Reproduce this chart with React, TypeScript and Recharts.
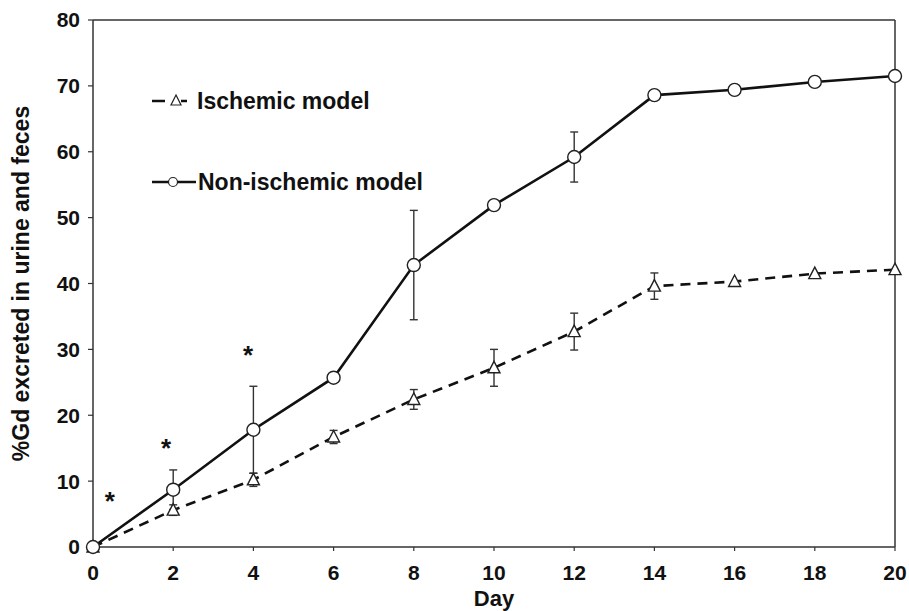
import React from 'react';
import {
  ComposedChart, Line, XAxis, YAxis, ErrorBar, ReferenceLine, ReferenceDot, Legend,
} from 'recharts';

const days = [0, 2, 4, 6, 8, 10, 12, 14, 16, 18, 20];
const nonIschemic = [0, 8.7, 17.8, 25.7, 42.8, 51.9, 59.2, 68.6, 69.4, 70.6, 71.5];
const nonIschemicErr = [0, 3.0, 6.6, 0, 8.3, 0, 3.8, 0, 0, 0, 0];
const ischemic = [0, 5.6, 10.2, 16.7, 22.4, 27.2, 32.7, 39.6, 40.3, 41.5, 42.1];
const ischemicErr = [0, 0.8, 1.0, 1.0, 1.5, 2.8, 2.8, 2.0, 0, 0, 0];

const xTicks = [0, 2, 4, 6, 8, 10, 12, 14, 16, 18, 20];
const yTicks = [0, 10, 20, 30, 40, 50, 60, 70, 80];

const asteriskDays = [0.42, 1.82, 3.87];
const asteriskValues = [7.9, 15.9, 30.0];

const seriesNames = ['Ischemic model', 'Non-ischemic model'];

const data = days.map((d, i) => ({
  day: d,
  non: nonIschemic[i],
  nonErr: nonIschemicErr[i],
  isch: ischemic[i],
  ischErr: ischemicErr[i],
}));

const FONT = '"Liberation Sans", Arial, sans-serif';
const INK = '#111';

const CircleDot = (props: any) => {
  const { cx, cy, index } = props;
  if (cx == null || cy == null) return null;
  return <circle key={`c${index}`} cx={cx} cy={cy} r={6.5} fill="#fff" stroke="#222" strokeWidth={1.4} />;
};

const TriangleDot = (props: any) => {
  const { cx, cy, index } = props;
  if (cx == null || cy == null) return null;
  return (
    <path
      key={`t${index}`}
      d={`M${cx},${cy - 6.5} L${cx + 6},${cy + 5} L${cx - 6},${cy + 5} Z`}
      fill="#fff"
      stroke="#222"
      strokeWidth={1.4}
    />
  );
};

const AsteriskShape = (props: any) => {
  const { cx, cy } = props;
  return (
    <text x={cx} y={cy + 15} textAnchor="middle" fontFamily={FONT} fontWeight={700} fontSize={26} fill="#111">
      *
    </text>
  );
};

const LegendContent = () => (
  <div style={{ fontFamily: FONT, fontWeight: 700, fontSize: 23, color: INK }}>
    <div style={{ display: 'flex', alignItems: 'center', height: 30, marginBottom: 51 }}>
      <svg width={47} height={30}>
        <line x1={2} y1={15} x2={15} y2={15} stroke={INK} strokeWidth={2.5} />
        <path d="M26,9 L31,19 L21,19 Z" fill="#fff" stroke="#222" strokeWidth={1.2} />
        <line x1={31} y1={15} x2={37} y2={15} stroke={INK} strokeWidth={2.5} />
      </svg>
      <span style={{ whiteSpace: 'nowrap' }}>{seriesNames[0]}</span>
    </div>
    <div style={{ display: 'flex', alignItems: 'center', height: 30 }}>
      <svg width={48} height={30}>
        <line x1={2} y1={15} x2={46} y2={15} stroke={INK} strokeWidth={2.5} />
        <circle cx={23} cy={15} r={4.5} fill="#fff" stroke="#222" strokeWidth={1.2} />
      </svg>
      <span style={{ whiteSpace: 'nowrap' }}>{seriesNames[1]}</span>
    </div>
  </div>
);

export default function App() {
  return (
    <div style={{ position: 'absolute', left: 0, top: 0, width: 909, height: 611, background: '#fff' }}>
      <ComposedChart
        width={909}
        height={611}
        data={data}
        margin={{ top: 20, right: 14, left: 0, bottom: 4 }}
      >
        <XAxis
          dataKey="day"
          type="number"
          domain={[0, 20]}
          ticks={xTicks}
          interval={0}
          height={60}
          tickSize={4}
          tickMargin={14}
          axisLine={{ stroke: '#333', strokeWidth: 1.5 }}
          tickLine={{ stroke: '#333', strokeWidth: 1.2 }}
          tick={{ fontFamily: FONT, fontWeight: 700, fontSize: 21, fill: INK }}
          label={{
            value: 'Day',
            position: 'insideBottom',
            offset: 1,
            style: { fontFamily: FONT, fontWeight: 700, fontSize: 22, fill: INK },
          }}
        />
        <YAxis
          type="number"
          domain={[0, 80]}
          ticks={yTicks}
          interval={0}
          width={93}
          tickSize={5}
          tickMargin={8}
          axisLine={{ stroke: '#333', strokeWidth: 1.5 }}
          tickLine={{ stroke: '#333', strokeWidth: 1.2 }}
          tick={{ fontFamily: FONT, fontWeight: 700, fontSize: 21, fill: INK }}
          label={{
            value: '%Gd excreted in urine and feces',
            angle: -90,
            position: 'insideLeft',
            offset: 21,
            textAnchor: 'middle',
            style: { textAnchor: 'middle', fontFamily: FONT, fontWeight: 700, fontSize: 23, fill: INK },
          }}
        />
        <ReferenceLine y={80} stroke="#333" strokeWidth={1.5} />
        <ReferenceLine x={20} stroke="#333" strokeWidth={1.5} />
        <Legend
          layout="horizontal"
          verticalAlign="middle"
          align="center"
          content={<LegendContent />}
          wrapperStyle={{ left: 150, top: 86, width: 'auto', height: 'auto' }}
        />
        <Line
          name={seriesNames[0]}
          dataKey="isch"
          stroke={INK}
          strokeWidth={2.6}
          strokeDasharray="10 7"
          dot={TriangleDot}
          activeDot={false}
          isAnimationActive={false}
        >
          <ErrorBar dataKey="ischErr" width={4} stroke="#333" strokeWidth={1.4} direction="y" />
        </Line>
        <Line
          name={seriesNames[1]}
          dataKey="non"
          stroke={INK}
          strokeWidth={2.6}
          dot={CircleDot}
          activeDot={false}
          isAnimationActive={false}
        >
          <ErrorBar dataKey="nonErr" width={4} stroke="#333" strokeWidth={1.4} direction="y" />
        </Line>
        {asteriskDays.map((d, i) => (
          <ReferenceDot key={i} x={d} y={asteriskValues[i]} r={0} shape={AsteriskShape} />
        ))}
      </ComposedChart>
    </div>
  );
}
